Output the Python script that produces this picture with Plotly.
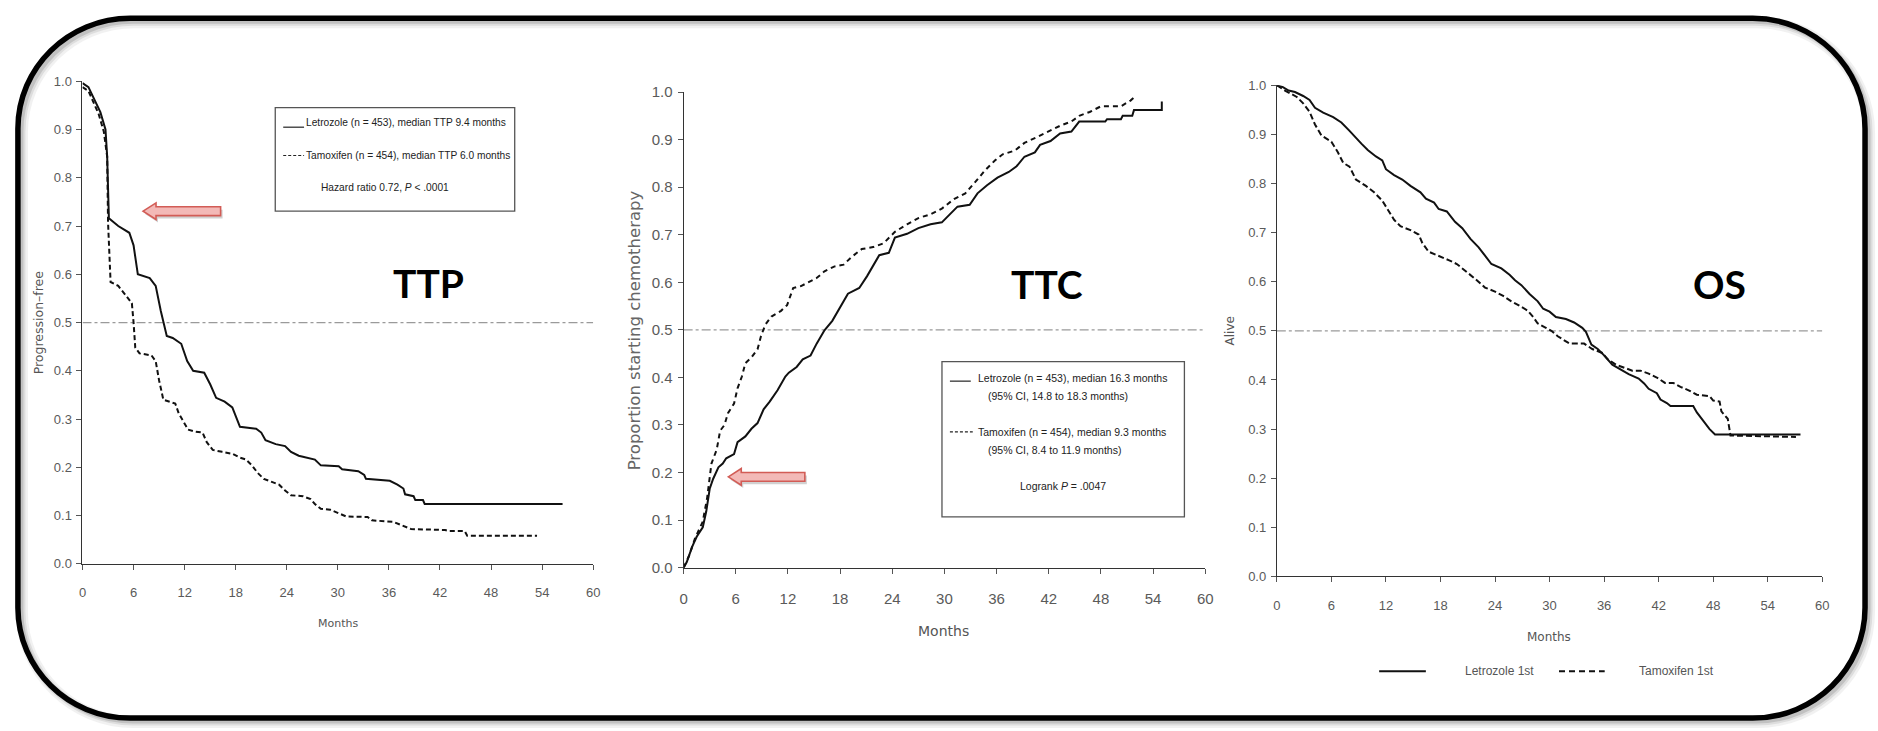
import plotly.graph_objects as go

W, H = 1878, 731

# ---------------- data ----------------
months_ticks = [0, 6, 12, 18, 24, 30, 36, 42, 48, 54, 60]
prob_ticks = [0.0, 0.1, 0.2, 0.3, 0.4, 0.5, 0.6, 0.7, 0.8, 0.9, 1.0]
ref_level = 0.5

ttp_let_x = [0, 0.7, 2.1, 2.7, 2.9, 3.1, 4.2, 5.5, 6.0, 6.5, 7.9, 8.6, 9.2, 9.5, 9.9, 10.6, 11.6, 12.3, 13.0, 14.3,
             15.0, 15.7, 16.7, 17.6, 18.5, 20.4, 21.0, 21.5, 22.7, 23.8, 24.5, 25.4, 27.3, 28.0, 30.1, 30.5, 32.4,
             33.1, 33.3, 36.1, 37.0, 37.7, 37.9, 38.9, 39.1, 40.0, 40.2, 56.4]
ttp_let_y = [0.996, 0.988, 0.936, 0.90, 0.844, 0.716, 0.70, 0.686, 0.66, 0.60, 0.592, 0.576, 0.524, 0.50, 0.472,
             0.468, 0.456, 0.42, 0.40, 0.396, 0.372, 0.344, 0.336, 0.324, 0.284, 0.28, 0.272, 0.256, 0.248, 0.244,
             0.232, 0.224, 0.216, 0.204, 0.202, 0.196, 0.192, 0.184, 0.176, 0.172, 0.164, 0.156, 0.144, 0.14,
             0.132, 0.132, 0.124, 0.124]
ttp_tam_x = [0, 0.7, 1.9, 2.5, 2.9, 3.0, 3.3, 4.2, 5.1, 5.8, 6.0, 6.2, 6.7, 8.1, 8.6, 9.0, 9.5, 10.2, 10.9, 11.3,
             11.8, 12.4, 13.2, 14.1, 14.6, 15.3, 16.4, 17.6, 18.5, 19.2, 19.9, 20.6, 21.3, 22.2, 23.1, 23.8, 24.5,
             25.9, 26.8, 27.3, 28.0, 29.1, 30.1, 31.0, 33.5, 34.0, 36.5, 37.2, 38.6, 42.6, 43.0, 44.9, 45.2, 53.4]
ttp_tam_y = [0.988, 0.98, 0.932, 0.896, 0.844, 0.708, 0.584, 0.576, 0.556, 0.54, 0.50, 0.448, 0.436, 0.432, 0.42,
             0.38, 0.34, 0.336, 0.332, 0.312, 0.296, 0.278, 0.274, 0.272, 0.252, 0.236, 0.232, 0.228, 0.22, 0.216,
             0.204, 0.188, 0.176, 0.17, 0.164, 0.152, 0.142, 0.14, 0.134, 0.124, 0.114, 0.112, 0.104, 0.098,
             0.097, 0.09, 0.087, 0.082, 0.072, 0.07, 0.068, 0.068, 0.058, 0.058]

ttc_let_x = [0, 0.36, 1.0, 1.5, 2.2, 2.6, 3.0, 3.4, 4.0, 4.5, 4.9, 5.8, 6.2, 7.1, 7.8, 8.5, 9.2, 9.9, 10.8, 11.7,
             12.1, 13.0, 13.7, 14.6, 15.3, 16.2, 17.1, 18.0, 18.9, 20.2, 21.1, 22.5, 23.6, 24.3, 25.7, 27.0, 28.4,
             29.7, 30.6, 31.5, 32.9, 33.8, 34.9, 36.1, 37.4, 38.3, 39.2, 40.4, 41.0, 42.2, 43.3, 44.6, 45.5, 48.5,
             48.7, 50.3, 50.5, 51.6, 51.8, 55.0, 55.0]
ttc_let_y = [0.0, 0.012, 0.045, 0.065, 0.085, 0.118, 0.166, 0.187, 0.211, 0.219, 0.230, 0.239, 0.264, 0.276, 0.292,
             0.304, 0.333, 0.349, 0.373, 0.402, 0.41, 0.422, 0.438, 0.446, 0.471, 0.499, 0.519, 0.548, 0.576, 0.588,
             0.613, 0.657, 0.662, 0.694, 0.702, 0.714, 0.722, 0.726, 0.743, 0.759, 0.763, 0.787, 0.804, 0.820,
             0.832, 0.844, 0.864, 0.873, 0.889, 0.897, 0.913, 0.917, 0.938, 0.938, 0.943, 0.943, 0.95, 0.95, 0.962,
             0.962, 0.98]
ttc_tam_x = [0, 0.6, 1.3, 2.2, 2.7, 3.2, 3.8, 4.2, 4.7, 5.1, 5.8, 6.2, 6.7, 7.1, 7.8, 8.5, 8.9, 9.4, 10.1, 11.2,
             11.9, 12.6, 13.5, 14.4, 15.3, 16.2, 17.3, 18.4, 19.3, 20.5, 21.8, 23.0, 24.3, 25.7, 27.0, 28.4, 29.7,
             31.1, 32.4, 33.6, 34.7, 35.8, 36.7, 38.1, 39.2, 40.6, 41.9, 43.3, 44.6, 45.5, 46.7, 48.0, 50.3, 51.4,
             51.9]
ttc_tam_y = [0.0, 0.024, 0.061, 0.097, 0.146, 0.219, 0.248, 0.288, 0.30, 0.325, 0.345, 0.377, 0.402, 0.43, 0.442,
             0.459, 0.487, 0.511, 0.528, 0.54, 0.552, 0.588, 0.592, 0.60, 0.609, 0.623, 0.633, 0.637, 0.653, 0.67,
             0.674, 0.682, 0.706, 0.722, 0.735, 0.743, 0.755, 0.775, 0.787, 0.812, 0.836, 0.856, 0.869, 0.877,
             0.893, 0.905, 0.917, 0.929, 0.938, 0.95, 0.958, 0.97, 0.97, 0.982, 0.99]

os_let_x = [0, 0.67, 1.3, 2.0, 2.9, 3.6, 4.2, 5.1, 6.2, 7.1, 8.0, 8.7, 9.3, 10.0, 10.9, 11.6, 12.0, 12.9, 13.8,
            14.7, 15.8, 16.4, 17.3, 17.8, 18.7, 19.6, 20.4, 21.3, 22.2, 22.9, 23.6, 24.7, 25.6, 26.2, 26.9, 27.8,
            28.7, 29.3, 30.0, 30.7, 31.8, 32.7, 33.6, 34.0, 34.6, 35.3, 36.0, 36.9, 37.8, 38.7, 39.8, 40.4, 40.9,
            41.8, 42.2, 42.9, 43.3, 45.8, 46.2, 46.7, 47.1, 47.6, 48.2, 57.6]
os_let_y = [1.0, 0.996, 0.989, 0.986, 0.978, 0.970, 0.954, 0.944, 0.935, 0.924, 0.907, 0.892, 0.881, 0.868, 0.855,
            0.847, 0.829, 0.817, 0.808, 0.795, 0.782, 0.769, 0.761, 0.748, 0.743, 0.722, 0.709, 0.687, 0.670,
            0.653, 0.636, 0.627, 0.614, 0.603, 0.593, 0.575, 0.560, 0.545, 0.539, 0.528, 0.524, 0.517, 0.506,
            0.498, 0.472, 0.463, 0.450, 0.431, 0.422, 0.412, 0.403, 0.393, 0.382, 0.373, 0.36, 0.353, 0.347,
            0.347, 0.334, 0.321, 0.313, 0.30, 0.289, 0.289]
os_tam_x = [0, 0.9, 2.2, 2.9, 3.6, 4.2, 4.9, 6.0, 6.7, 7.3, 8.0, 8.7, 9.8, 10.7, 11.6, 12.2, 12.9, 13.6, 14.7, 15.6,
            16.0, 16.7, 17.8, 18.9, 19.8, 20.7, 21.8, 22.9, 24.0, 24.9, 25.8, 26.7, 27.6, 28.2, 28.7, 29.6, 30.2,
            30.9, 31.6, 32.2, 33.8, 34.7, 35.8, 36.4, 37.3, 38.2, 39.1, 40.0, 40.9, 41.8, 42.7, 43.6, 44.4, 45.3,
            46.2, 47.6, 48.0, 48.7, 48.9, 49.6, 49.9, 57.1]
os_tam_y = [1.0, 0.989, 0.976, 0.963, 0.946, 0.92, 0.898, 0.885, 0.864, 0.842, 0.834, 0.808, 0.795, 0.782, 0.765,
            0.748, 0.726, 0.713, 0.705, 0.696, 0.679, 0.661, 0.653, 0.644, 0.636, 0.623, 0.606, 0.588, 0.580,
            0.571, 0.560, 0.551, 0.541, 0.528, 0.515, 0.506, 0.50, 0.489, 0.481, 0.474, 0.474, 0.463, 0.455,
            0.442, 0.431, 0.425, 0.419, 0.419, 0.413, 0.405, 0.394, 0.394, 0.386, 0.379, 0.370, 0.367, 0.358,
            0.356, 0.336, 0.321, 0.287, 0.284]

# ---------------- helpers (pixel -> paper) ----------------
def px(x):
    return x / W

def py(y):
    return 1 - y / H

fig = go.Figure()

panels = [
    # axis suffix, x-domain px, y-domain px (top, bottom), tick font size
    ("", (79, 593), (74, 568), 13),
    ("2", (684, 1209), (85, 572), 15),
    ("3", (1281, 1830), (78, 581), 13),
]

series = [
    (ttp_let_x, ttp_let_y, ttp_tam_x, ttp_tam_y, "5px,3px"),
    (ttc_let_x, ttc_let_y, ttc_tam_x, ttc_tam_y, "5px,4px"),
    (os_let_x, os_let_y, os_tam_x, os_tam_y, "6px,3px"),
]

layout_axes = {}
for (suf, (x0, x1), (yt, yb), tfs), (lx, ly, tx, tyv, dash) in zip(panels, series):
    xa = "x" + suf
    ya = "y" + suf
    fig.add_trace(go.Scatter(x=[months_ticks[0], months_ticks[-1]], y=[ref_level, ref_level], mode="lines",
                             line=dict(color="#9a9a9a", width=1.2, dash="dashdot"),
                             xaxis=xa, yaxis=ya, showlegend=False, hoverinfo="skip"))
    fig.add_trace(go.Scatter(x=tx, y=tyv, mode="lines", line=dict(color="#111", width=2, dash=dash),
                             xaxis=xa, yaxis=ya, showlegend=False, name="Tamoxifen"))
    fig.add_trace(go.Scatter(x=lx, y=ly, mode="lines", line=dict(color="#111", width=2),
                             xaxis=xa, yaxis=ya, showlegend=False, name="Letrozole"))
    axis_common = dict(showgrid=False, zeroline=False, showline=True, linecolor="#333", linewidth=1,
                       ticks="outside", tickcolor="#555", ticklen=5, tickwidth=1,
                       tickfont=dict(family="Liberation Sans, Arial, sans-serif", size=tfs, color="#5a5a5a"))
    layout_axes["xaxis" + suf] = dict(domain=[px(x0), px(x1)], range=[0, 60], tickvals=months_ticks,
                                      anchor=ya, ticklabelstandoff=12, **axis_common)
    layout_axes["yaxis" + suf] = dict(domain=[py(yb), py(yt)], range=[0, 1], tickvals=prob_ticks,
                                      tickformat=".1f", anchor=xa, ticklabelstandoff=2, **axis_common)

fig.update_layout(**layout_axes)

# ---------------- decorations ----------------
shapes = []

def rounded_rect_path(L, T, R, B, r, dx=0, dy=0):
    k = 0.5523 * r
    L, R, T, B = L + dx, R + dx, T + dy, B + dy
    def P(x, y):
        return f"{px(x):.6f},{py(y):.6f}"
    d = f"M {P(L + r, T)} L {P(R - r, T)} "
    d += f"C {P(R - r + k, T)} {P(R, T + r - k)} {P(R, T + r)} "
    d += f"L {P(R, B - r)} "
    d += f"C {P(R, B - r + k)} {P(R - r + k, B)} {P(R - r, B)} "
    d += f"L {P(L + r, B)} "
    d += f"C {P(L + r - k, B)} {P(L, B - r + k)} {P(L, B - r)} "
    d += f"L {P(L, T + r)} "
    d += f"C {P(L, T + r - k)} {P(L + r - k, T)} {P(L + r, T)} Z"
    return d

FL, FT, FR, FB, FRAD = 14, 9.5, 1873, 726, 113
# soft shadow of the frame (offset down-right)
for w, op, off in [(12, 0.05, 4), (8, 0.08, 3.5), (5, 0.12, 3)]:
    shapes.append(dict(type="path", xref="paper", yref="paper", layer="below",
                       path=rounded_rect_path(FL, FT, FR, FB, FRAD, off, off),
                       line=dict(color="#000", width=w), opacity=op))
shapes.append(dict(type="path", xref="paper", yref="paper", layer="above",
                   path=rounded_rect_path(FL, FT, FR, FB, FRAD),
                   line=dict(color="#000", width=5.5)))

def arrow_path(tip_x, tip_y, head_x, tail_x, shaft_half, head_half, dx=0, dy=0):
    pts = [(tip_x, tip_y), (head_x, tip_y - head_half), (head_x, tip_y - shaft_half),
           (tail_x, tip_y - shaft_half), (tail_x, tip_y + shaft_half), (head_x, tip_y + shaft_half),
           (head_x, tip_y + head_half)]
    return "M " + " L ".join(f"{px(x + dx):.6f},{py(y + dy):.6f}" for x, y in pts) + " Z"

for (tipx, tipy, headx, tailx) in [(140, 207, 153, 218), (729, 479, 742, 806)]:
    shapes.append(dict(type="path", xref="paper", yref="paper", layer="above",
                       path=arrow_path(tipx, tipy, headx, tailx, 4.5, 8.5, 2, 3),
                       fillcolor="rgba(0,0,0,0.18)", line=dict(width=0)))
    shapes.append(dict(type="path", xref="paper", yref="paper", layer="above",
                       path=arrow_path(tipx, tipy, headx, tailx, 4.5, 8.5),
                       fillcolor="#f3b9b7", line=dict(color="#d25c56", width=1.6)))

# legend boxes
for (x0, y0, x1, y1) in [(273, 101, 514, 207), (944, 361, 1188, 520)]:
    shapes.append(dict(type="rect", xref="paper", yref="paper", layer="above",
                       x0=px(x0), x1=px(x1), y0=py(y1), y1=py(y0),
                       fillcolor="white", line=dict(color="#555", width=1.3)))

def hline(x0, x1, y, dash="solid", width=1.2, color="#222"):
    shapes.append(dict(type="line", xref="paper", yref="paper", layer="above",
                       x0=px(x0), x1=px(x1), y0=py(y), y1=py(y),
                       line=dict(color=color, width=width, dash=dash)))

hline(281, 302, 121)
hline(281, 302, 150, dash="3px,2px")
hline(952, 973, 381)
hline(952, 975, 433, dash="3px,2px")
hline(1384, 1431, 678, width=2, color="#111")
hline(1565, 1611, 678, dash="6px,4px", width=2, color="#111")

fig.update_layout(shapes=shapes)

# ---------------- text ----------------
ann = []
def text(x, y, s, size, color="#222", family="Liberation Sans, Arial, sans-serif", xanchor="left",
         angle=0, bold=False):
    ann.append(dict(x=px(x), y=py(y), xref="paper", yref="paper", text=s, showarrow=False,
                    xanchor=xanchor, yanchor="middle", textangle=angle,
                    font=dict(family=family, size=size, color=color,
                              weight="bold" if bold else "normal")))

leg_font = "Liberation Sans, Arial, sans-serif"
text(302, 116, "Letrozole (n = 453), median TTP 9.4 months", 10.2, "#222", leg_font)
text(302, 150, "Tamoxifen (n = 454), median TTP 6.0 months", 10.2, "#222", leg_font)
text(383, 183, "Hazard ratio 0.72, <i>P</i> &lt; .0001", 10.2, "#222", leg_font, xanchor="center")

text(978, 378, "Letrozole (n = 453), median 16.3 months", 10.5, "#222", leg_font)
text(988, 396, "(95% CI, 14.8 to 18.3 months)", 10.5, "#222", leg_font)
text(978, 433, "Tamoxifen (n = 454), median 9.3 months", 10.5, "#222", leg_font)
text(988, 451, "(95% CI, 8.4 to 11.9 months)", 10.5, "#222", leg_font)
text(1066, 488, "Logrank <i>P</i> = .0047", 10.5, "#222", leg_font, xanchor="center")

big = "Lato, Open Sans, sans-serif"
text(427, 281, "TTP", 39, "#000", big, xanchor="center", bold=True)
text(1050, 282, "TTC", 39, "#000", big, xanchor="center", bold=True)
text(1727, 282, "OS", 39, "#000", big, xanchor="center", bold=True)

axt = "DejaVu Sans, sans-serif"
text(35, 321, "Progression\u2013free", 12.5, "#555", axt, xanchor="center", angle=-90)
text(634, 329, "Proportion starting chemotherapy", 16.5, "#666", axt, xanchor="center", angle=-90)
text(1234, 330, "Alive", 12, "#555", axt, xanchor="center", angle=-90)

text(336, 629, "Months", 11, "#555", axt, xanchor="center")
text(946, 637, "Months", 14, "#555", axt, xanchor="center")
text(1555, 643, "Months", 12, "#555", axt, xanchor="center")

text(1505, 678, "Letrozole 1st", 12, "#555", leg_font, xanchor="center")
text(1683, 678, "Tamoxifen 1st", 12, "#555", leg_font, xanchor="center")

fig.update_layout(annotations=ann, width=W, height=H, margin=dict(l=0, r=0, t=0, b=0),
                  paper_bgcolor="white", plot_bgcolor="white", showlegend=False)

fig.write_html("out.html")
